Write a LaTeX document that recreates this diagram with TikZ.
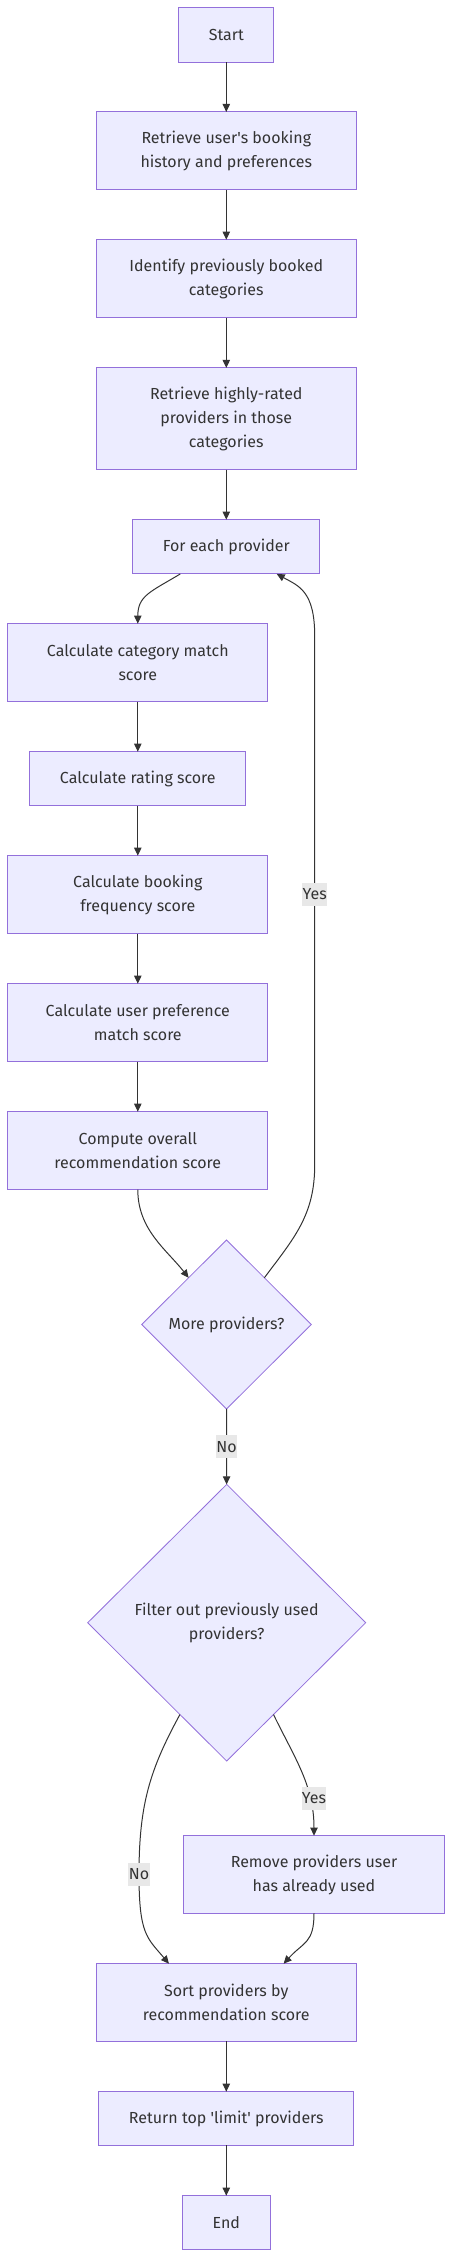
\documentclass[tikz,border=0pt]{standalone}
\usepackage{fontspec}
\setmainfont{Fira Sans}
\usetikzlibrary{arrows.meta,shapes.geometric}
\definecolor{mmfill}{HTML}{ECECFF}
\definecolor{mmborder}{HTML}{9370DB}
\definecolor{mmtext}{HTML}{333333}
\definecolor{mmlbl}{HTML}{E8E8E8}
\newcommand{\nodefont}{\fontsize{12}{18}\selectfont}
\begin{document}
\begin{tikzpicture}[x=0.75pt,y=-0.75pt,
  box/.style={rectangle, draw=mmborder, fill=mmfill, line width=0.75pt, text=mmtext,
    align=center, inner sep=0pt, outer sep=0pt, font=\nodefont},
  decision/.style={diamond, draw=mmborder, fill=mmfill, line width=0.6pt, text=mmtext,
    align=center, inner sep=0pt, outer sep=0pt, font=\nodefont},
  arr/.style={draw=mmtext, line width=0.75pt, -{Triangle[length=6pt,width=5.5pt]}},
  lbl/.style={fill=mmlbl, text=mmtext, inner xsep=0.3pt, inner ysep=0pt,
    minimum height=17.5pt, font=\nodefont}]
\useasboundingbox (0,0) rectangle (452,2258);

\node[box, minimum width=71.5pt, minimum height=40.7pt] (start) at (226.3,34.9) {Start};
\node[box, minimum width=195pt, minimum height=58.5pt] (hist) at (226.3,151) {Retrieve user\textquotesingle s booking\\history and preferences};
\node[box, minimum width=195pt, minimum height=58.5pt] (ident) at (226.3,278.7) {Identify previously booked\\categories};
\node[box, minimum width=195pt, minimum height=76.3pt] (high) at (226.3,418.8) {Retrieve highly-rated\\providers in those\\categories};
\node[box, minimum width=140.5pt, minimum height=40.7pt] (each) at (226.3,546.8) {For each provider};
\node[box, minimum width=195.2pt, minimum height=58.5pt] (cat) at (137.8,662.7) {Calculate category match\\score};
\node[box, minimum width=161.8pt, minimum height=40.5pt] (rate) at (137.8,778.7) {Calculate rating score};
\node[box, minimum width=195.2pt, minimum height=58.5pt] (freq) at (137.8,894.7) {Calculate booking\\frequency score};
\node[box, minimum width=195.2pt, minimum height=58.5pt] (pref) at (137.8,1022.7) {Calculate user preference\\match score};
\node[box, minimum width=195.2pt, minimum height=58.5pt] (overall) at (137.8,1150.7) {Compute overall\\recommendation score};
\node[decision, minimum width=127.2pt, minimum height=126.75pt] (more) at (226.5,1324.5) {More providers?};
\node[decision, minimum width=208.5pt, minimum height=207.5pt] (filter) at (226.7,1622.7) {Filter out previously used\\providers?};
\node[box, minimum width=195.5pt, minimum height=58.2pt] (remove) at (314,1874.5) {Remove providers user\\has already used};
\node[box, minimum width=195pt, minimum height=58.2pt] (sort) at (226.3,2002.5) {Sort providers by\\recommendation score};
\node[box, minimum width=191pt, minimum height=40.2pt] (ret) at (226.3,2118.5) {Return top \textquotesingle limit\textquotesingle\ providers};
\node[box, minimum width=66pt, minimum height=40.2pt] (end) at (226.3,2222.5) {End};

\coordinate (loopLow) at (314.7,1165);
\coordinate (loopHigh) at (314.7,636);
\coordinate (noPt) at (139,1874.3);

\draw[arr] (start) -- (hist);
\draw[arr] (hist) -- (ident);
\draw[arr] (ident) -- (high);
\draw[arr] (high) -- (each);
\draw[arr] ([xshift=-34.5pt]each.south) .. controls +(-30,18) and +(0,-28) .. (cat.north);
\draw[arr] (cat) -- (rate);
\draw[arr] (rate) -- (freq);
\draw[arr] (freq) -- (pref);
\draw[arr] (pref) -- (overall);
\draw[arr] (overall.south) .. controls +(0,40) and +(-22,-28) .. (more.129);
\draw[arr] (more.51) .. controls +(30,-40) and +(0,50) .. (loopLow) -- (loopHigh)
  .. controls +(0,-45) and +(22,12) .. ([xshift=37.8pt]each.south);
\node[lbl] (yes1) at (314.7,894.3) {Yes};
\draw[arr] (more) -- (filter);
\node[lbl] (no1) at (226.6,1446.7) {No};
\draw[arr] (filter.-63.5) .. controls +(22,45) and +(0,-50) .. (remove.north);
\node[lbl] (yes2) at (314,1798.3) {Yes};
\draw[arr] (filter.243.6) .. controls +(-30,55) and +(0,-70) .. (noPt)
  .. controls +(0,60) and +(-22,-26) .. ([xshift=-43pt]sort.north);
\node[lbl] (no2) at (noPt) {No};
\draw[arr] (remove.south) .. controls +(0,30) and +(20,-22) .. ([xshift=43pt]sort.north);
\draw[arr] (sort) -- (ret);
\draw[arr] (ret) -- (end);
\end{tikzpicture}
\end{document}
